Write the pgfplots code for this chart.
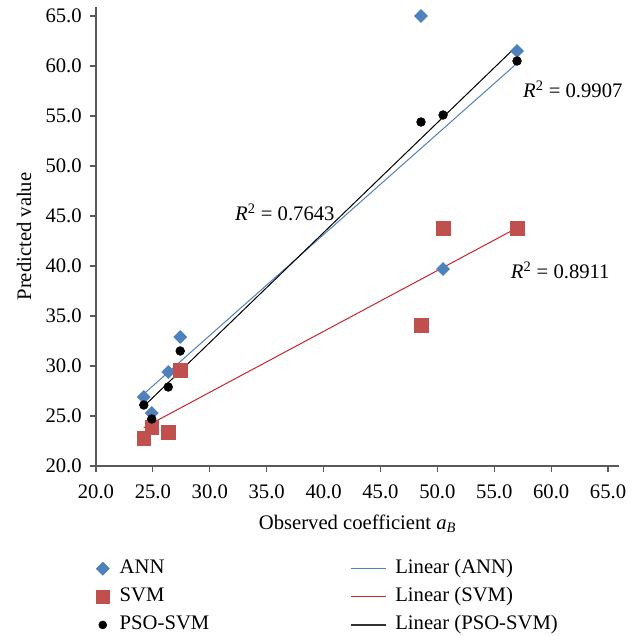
\documentclass[border=0pt]{standalone}
\usepackage{fontspec}
\setmainfont{Liberation Serif}
\usepackage{pgfplots}
\pgfplotsset{compat=1.18}
\definecolor{annblue}{HTML}{4F81BD}
\definecolor{svmred}{HTML}{C0504D}
\definecolor{linred}{HTML}{C8262D}
\definecolor{axgray}{HTML}{595959}
\pgfplotsset{
  linelegend/.style={legend image code/.code={\draw[##1] (0pt,0pt) -- (26.25pt,0pt); \path (31pt,0pt);}},
  marklegend/.style={legend image code/.code={\path (0pt,0pt) (16.5pt,0pt); \draw[##1] plot coordinates {(6pt,0pt)};}},
}
\begin{document}
\begin{tikzpicture}
\useasboundingbox (-72pt,-126.75pt) rectangle (409.5pt,349.5pt);
\begin{axis}[
  at={(0pt,0pt)}, anchor=south west,
  scale only axis,
  width=392.25pt, height=344.25pt,
  xmin=20, xmax=65.96, ymin=20, ymax=65.9,
  axis lines=left,
  axis line style={-, draw=axgray, line width=0.9pt},
  tick style={draw=axgray, line width=0.9pt},
  tick align=outside,
  major tick length=4.2pt,
  xtick={20,25,...,65}, ytick={20,25,...,65},
  /pgf/number format/.cd, fixed, fixed zerofill, precision=1, assume math mode=true,
  /pgfplots/.cd,
  ticklabel style={font=\fontsize{15.5}{17}\selectfont, text=black},
  xticklabel style={yshift=-6pt},
  yticklabel style={xshift=-3pt},
  xlabel={Observed coefficient \textit{a}\textsubscript{\textit{B}}},
  ylabel={Predicted value},
  xlabel style={font=\fontsize{15.5}{17}\selectfont, at={(rel axis cs:0.5,0)}, anchor=north, yshift=-33pt},
  ylabel style={font=\fontsize{15.5}{17}\selectfont, at={(axis description cs:-0.1377,0.5)}, anchor=center, rotate=0},
  legend columns=2,
  legend style={draw=none, fill=none, inner sep=0pt, at={(axis description cs:0,0)}, xshift=-1.3pt, yshift=-69.3pt, anchor=north west,
    font=\fontsize{15.5}{17}\selectfont, cells={anchor=west}, row sep=6.1pt,
    nodes={inner ysep=0pt, text height=11pt, text depth=4pt},
    /tikz/every even column/.append style={column sep=103.5pt}},
  clip=false,
]
% trend lines
\addplot[annblue, line width=0.75pt, forget plot] coordinates {(24.2,27.21) (57.0,60.27)};
\addplot[linred, line width=0.75pt, forget plot] coordinates {(24.2,23.84) (57.0,43.81)};
\addplot[black, line width=0.75pt, forget plot] coordinates {(24.2,25.97) (57.0,62.03)};
% ANN
\addplot[only marks, mark=square*, mark size=3.45pt, mark options={rotate=45, fill=annblue, draw=annblue}, forget plot]
 coordinates {(48.56,65.0) (57.0,61.5) (50.5,39.7) (27.4,32.9) (26.35,29.4) (24.2,26.9) (24.9,25.3)};
% SVM
\addplot[only marks, mark=square*, mark size=5.2pt, mark options={fill=svmred, draw=svmred}, forget plot]
 coordinates {(50.5,43.8) (57.0,43.8) (48.56,34.1) (27.4,29.6) (24.9,23.9) (24.2,22.8) (26.35,23.4)};
% PSO-SVM
\addplot[only marks, mark=*, mark size=3.3pt, mark options={fill=black, draw=black}, forget plot]
 coordinates {(48.56,54.4) (50.5,55.1) (57.0,60.5) (27.4,31.5) (26.35,27.9) (24.2,26.1) (24.9,24.7)};
% legend
\addlegendimage{only marks, marklegend, mark=square*, mark size=3.45pt, mark options={rotate=45, fill=annblue, draw=annblue}}
\addlegendentry{ANN}
\addlegendimage{draw=annblue, line width=1pt, linelegend}
\addlegendentry{Linear (ANN)}
\addlegendimage{only marks, marklegend, mark=square*, mark size=4.9pt, mark options={fill=svmred, draw=svmred}}
\addlegendentry{SVM}
\addlegendimage{draw=linred, line width=1pt, linelegend}
\addlegendentry{Linear (SVM)}
\addlegendimage{only marks, marklegend, mark=*, mark size=3pt, mark options={fill=black, draw=black}}
\addlegendentry{PSO-SVM}
\addlegendimage{draw=black!80, line width=1pt, linelegend}
\addlegendentry{Linear (PSO-SVM)}
% R^2 labels
\node[font=\fontsize{15.5}{17}\selectfont] at (axis cs:36.6,45.4) {\textit{R}\textsuperscript{2} = 0.7643};
\node[font=\fontsize{15.5}{17}\selectfont] at (axis cs:61.9,57.7) {\textit{R}\textsuperscript{2} = 0.9907};
\node[font=\fontsize{15.5}{17}\selectfont] at (axis cs:60.8,39.6) {\textit{R}\textsuperscript{2} = 0.8911};
\end{axis}
\end{tikzpicture}
\end{document}
